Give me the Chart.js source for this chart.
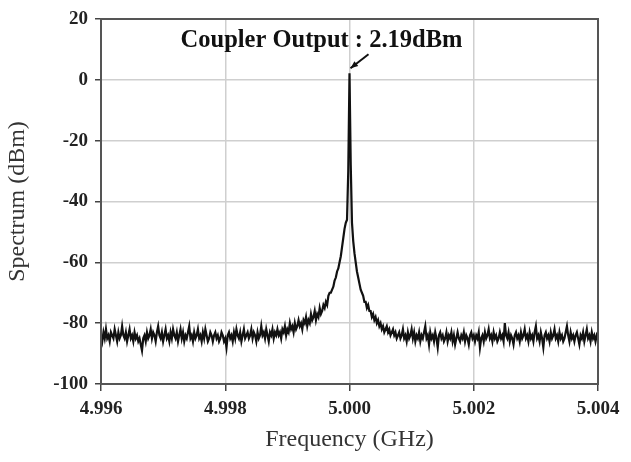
<!DOCTYPE html>
<html>
<head>
<meta charset="utf-8">
<script src="https://cdn.jsdelivr.net/npm/chart.js@4/dist/chart.umd.min.js"></script>
<style>
  body { margin: 0; background: #fff; }
  canvas { display: block; }
</style>
</head>
<body>
<canvas id="myChart" width="631" height="462"></canvas>
<script>
// sweep grid of the analyser: 401 samples from 4.996 to 5.004 GHz
const freqStart = 4.996;
const freqStep = 0.00002;

const xTicks = [4.996, 4.998, 5.000, 5.002, 5.004];
const yTicks = [-100, -80, -60, -40, -20, 0, 20];

const peakFreq = 5.000;
const peakLevel = 2.19;
const peakText = 'Coupler Output : 2.19dBm';

// spectrum in dBm
const spectrum = [
  -84,-86,-83,-85,-82,-85,-84,-86,-83,-84,-85,-82,-84,-86,-83,-85,-84,-81,-84,-85,
  -83,-86,-84,-82,-85,-84,-86,-83,-85,-84,-86,-85,-87,-89,-85,-84,-86,-83,-85,-84,
  -82,-85,-83,-84,-86,-83,-81,-84,-85,-83,-86,-84,-82,-85,-84,-86,-83,-85,-82,-84,
  -85,-83,-86,-84,-82,-85,-83,-86,-84,-85,-83,-81,-85,-84,-86,-83,-85,-84,-82,-85,
  -84,-86,-83,-85,-82,-84,-86,-85,-83,-84,-86,-84,-83,-85,-84,-86,-85,-83,-84,-86,
  -85,-88,-84,-83,-85,-84,-86,-83,-85,-82,-84,-85,-83,-86,-84,-82,-85,-84,-83,-85,
  -84,-82,-85,-83,-84,-86,-83,-85,-84,-81,-84,-83,-85,-82,-84,-86,-83,-84,-82,-85,
  -83,-84,-82,-84,-83,-85,-82,-83,-81,-84,-82,-83,-80,-82,-81,-83,-80,-82,-81,-79,
  -81,-80,-82,-79,-80,-78,-81,-79,-80,-77,-79,-78,-76,-79,-77,-78,-75,-77,-76,-74,
  -75,-73,-74,-71,-70,-70,-69,-68,-66,-65,-63,-62,-60,-58,-55,-52,-49,-47,-46,-30,
  2.19,
  -28,-47,-53,-57,-60,-63,-65,-67,-69,-70,-71,-73,-73,-75,-74,-76,-76,-78,-77,-79,
  -78,-80,-79,-81,-80,-82,-81,-83,-82,-81,-83,-82,-84,-83,-82,-84,-83,-85,-84,-83,
  -85,-84,-82,-85,-84,-86,-83,-85,-84,-82,-85,-83,-86,-84,-85,-83,-86,-84,-85,-83,
  -81,-85,-84,-87,-83,-85,-84,-86,-83,-85,-88,-84,-83,-85,-84,-86,-85,-83,-86,-84,
  -85,-83,-86,-84,-87,-85,-83,-85,-86,-84,-85,-83,-86,-84,-85,-87,-84,-83,-85,-84,
  -86,-84,-85,-83,-88,-85,-84,-86,-83,-85,-84,-82,-85,-84,-86,-83,-85,-84,-86,-85,
  -83,-85,-84,-86,-80,-84,-85,-83,-86,-84,-85,-87,-84,-83,-85,-84,-86,-83,-85,-84,
  -82,-85,-84,-86,-83,-85,-84,-86,-83,-81,-85,-84,-86,-83,-85,-88,-84,-83,-85,-84,
  -86,-83,-85,-84,-82,-85,-84,-86,-83,-85,-84,-86,-85,-83,-81,-84,-86,-83,-85,-84,
  -86,-84,-83,-85,-87,-84,-85,-83,-86,-84,-82,-85,-84,-86,-83,-85,-84,-86,-84,-85
];

const points = spectrum.map((v, i) => ({ x: freqStart + i * freqStep, y: v }));

const serif = '"Liberation Serif", "Times New Roman", serif';

// frame round the plot + peak label with arrow
const framePlugin = {
  id: 'frame',
  afterDatasetsDraw(chart) {
    const { ctx, chartArea: a, scales } = chart;
    ctx.save();
    ctx.strokeStyle = '#555';
    ctx.lineWidth = 2;
    ctx.strokeRect(a.left, a.top, a.right - a.left, a.bottom - a.top);

    const px = scales.x.getPixelForValue(peakFreq);
    const py = scales.y.getPixelForValue(peakLevel);
    const tipX = px + 1, tipY = py - 5;
    const tailX = px + 19, tailY = py - 19;
    ctx.strokeStyle = '#111';
    ctx.fillStyle = '#111';
    ctx.lineWidth = 2;
    ctx.beginPath();
    ctx.moveTo(tailX, tailY);
    ctx.lineTo(tipX, tipY);
    ctx.stroke();
    const ang = Math.atan2(tipY - tailY, tipX - tailX);
    ctx.beginPath();
    ctx.moveTo(tipX, tipY);
    ctx.lineTo(tipX - 8 * Math.cos(ang - 0.4), tipY - 8 * Math.sin(ang - 0.4));
    ctx.lineTo(tipX - 8 * Math.cos(ang + 0.4), tipY - 8 * Math.sin(ang + 0.4));
    ctx.closePath();
    ctx.fill();

    ctx.font = 'bold 24.5px ' + serif;
    ctx.textAlign = 'center';
    ctx.textBaseline = 'alphabetic';
    ctx.fillText(peakText, px - 28, py - 26);
    ctx.restore();
  }
};

const ctx = document.getElementById('myChart').getContext('2d');
const myChart = new Chart(ctx, {
  type: 'line',
  data: {
    datasets: [{
      data: points,
      borderColor: '#111',
      borderWidth: 2.2,
      pointRadius: 0,
      tension: 0,
      fill: false
    }]
  },
  options: {
    responsive: false,
    animation: false,
    devicePixelRatio: 1,
    layout: { padding: { left: 0, right: 33, top: 19, bottom: 0 } },
    plugins: { legend: { display: false }, tooltip: { enabled: false } },
    scales: {
      x: {
        type: 'linear',
        min: 4.996,
        max: 5.004,
        afterBuildTicks: s => { s.ticks = xTicks.map(v => ({ value: v })); },
        afterFit: s => { s.height = 78; },
        grid: { color: '#cfcfcf', lineWidth: 1.5, tickColor: '#444', tickLength: 7 },
        border: { color: '#555', width: 2 },
        ticks: {
          padding: 7,
          maxRotation: 0,
          color: '#222',
          font: { family: serif, size: 19, weight: 'bold' },
          callback: v => v.toFixed(3)
        },
        title: {
          display: true,
          text: 'Frequency (GHz)',
          color: '#333',
          padding: { top: 0, bottom: 8 },
          font: { family: serif, size: 24 }
        }
      },
      y: {
        min: -100,
        max: 20,
        afterBuildTicks: s => { s.ticks = yTicks.map(v => ({ value: v })); },
        afterFit: s => { s.width = 101; },
        grid: { color: '#cfcfcf', lineWidth: 1.5, tickColor: '#444', tickLength: 6 },
        border: { color: '#555', width: 2 },
        ticks: {
          padding: 7,
          color: '#222',
          font: { family: serif, size: 19, weight: 'bold' }
        },
        title: {
          display: true,
          text: 'Spectrum (dBm)',
          color: '#333',
          padding: { top: 3, bottom: 0 },
          font: { family: serif, size: 24 }
        }
      }
    }
  },
  plugins: [framePlugin]
});
</script>
</body>
</html>
